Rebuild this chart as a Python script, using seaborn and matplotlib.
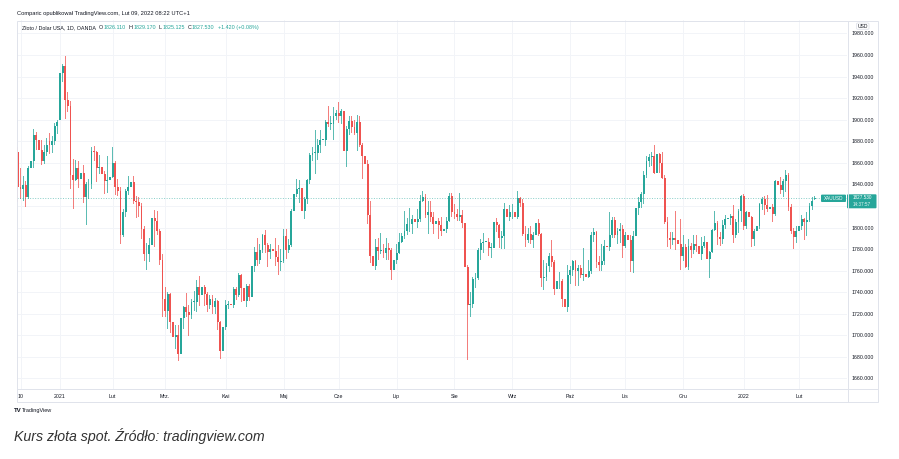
import numpy as np
import pandas as pd
import matplotlib
matplotlib.use("Agg")
import matplotlib.pyplot as plt
import seaborn as sns
from matplotlib.patches import Rectangle, FancyBboxPatch

# ---------------- data (XAU/USD daily, OANDA) ----------------
start_date = "2020-12-09"
end_date = "2022-02-09"
closed_days = ["2020-12-25", "2021-01-01"]

opens = [
    # Dec 2020
    1870, 1838, 1836, 1839, 1828, 1855, 1862, 1886, 1881, 1872, 1862, 1870, 1880, 1877, 1880, 1894,
    # Jan 2021
    1900, 1943, 1950, 1918, 1913, 1849, 1844, 1855, 1845, 1851, 1828, 1840, 1840, 1871, 1870, 1855, 1856, 1850, 1843, 1844,
    # Feb
    1847, 1860, 1838, 1834, 1793, 1814, 1834, 1838, 1842, 1825, 1824, 1820, 1799, 1775, 1775, 1784, 1809, 1806, 1797, 1770,
    # Mar
    1734, 1723, 1738, 1712, 1698, 1700, 1683, 1716, 1726, 1722, 1719, 1731, 1731, 1745, 1737, 1745, 1738, 1728, 1734, 1726, 1732, 1712, 1685,
    # Apr
    1708, 1728, 1729, 1728, 1743, 1737, 1756, 1744, 1732, 1746, 1736, 1764, 1777, 1770, 1779, 1793, 1784, 1777, 1780, 1778, 1773, 1768,
    # May
    1769, 1792, 1779, 1784, 1815, 1831, 1836, 1837, 1815, 1826, 1844, 1867, 1869, 1869, 1877, 1881, 1881, 1898, 1896, 1896, 1903,
    # Jun
    1906, 1903, 1908, 1871, 1891, 1899, 1893, 1888, 1898, 1877, 1866, 1859, 1812, 1774, 1764, 1782, 1778, 1779, 1776, 1781, 1779, 1761,
    # Jul
    1770, 1776, 1787, 1792, 1797, 1803, 1803, 1808, 1805, 1808, 1825, 1828, 1812, 1814, 1810, 1803, 1806, 1802, 1797, 1799, 1806, 1829,
    # Aug
    1814, 1813, 1810, 1812, 1804, 1763, 1728, 1729, 1752, 1753, 1779, 1786, 1787, 1787, 1781, 1781, 1805, 1802, 1790, 1792, 1817, 1810,
    # Sep
    1814, 1814, 1810, 1827, 1823, 1794, 1788, 1794, 1788, 1793, 1804, 1794, 1753, 1754, 1764, 1774, 1768, 1743, 1750, 1750, 1734, 1726,
    # Oct
    1756, 1761, 1769, 1760, 1762, 1756, 1757, 1754, 1760, 1793, 1796, 1768, 1765, 1769, 1783, 1782, 1793, 1807, 1793, 1797, 1799,
    # Nov
    1783, 1793, 1788, 1769, 1792, 1818, 1824, 1831, 1849, 1862, 1865, 1866, 1851, 1868, 1860, 1846, 1805, 1790, 1788, 1790, 1788, 1785,
    # Dec
    1774, 1782, 1763, 1783, 1779, 1785, 1783, 1775, 1783, 1787, 1771, 1777, 1798, 1804, 1791, 1789, 1802, 1808, 1809, 1811, 1793, 1805, 1815,
    # Jan 2022
    1829, 1801, 1814, 1810, 1789, 1797, 1801, 1822, 1826, 1821, 1817, 1819, 1813, 1843, 1839, 1835, 1843, 1849, 1819, 1797, 1791,
    # Feb 2022
    1797, 1801, 1808, 1805, 1807, 1820, 1826.11,
]
highs = [
    1875, 1855, 1848, 1843, 1857, 1867, 1891, 1889, 1906, 1881, 1877, 1883, 1888, 1885, 1897, 1900,
    1944, 1952, 1959, 1926, 1917, 1864, 1863, 1862, 1865, 1858, 1842, 1845, 1875, 1876, 1871, 1867, 1867, 1852, 1866, 1875,
    1875, 1862, 1845, 1838, 1817, 1836, 1848, 1855, 1848, 1829, 1828, 1823, 1801, 1786, 1790, 1813, 1816, 1815, 1799, 1775,
    1745, 1740, 1739, 1721, 1710, 1710, 1719, 1727, 1739, 1728, 1734, 1741, 1751, 1755, 1748, 1747, 1740, 1737, 1737, 1735, 1733, 1713, 1717,
    1733, 1732, 1741, 1745, 1745, 1758, 1757, 1745, 1748, 1748, 1766, 1782, 1790, 1785, 1794, 1798, 1786, 1785, 1782, 1790, 1784, 1780,
    1799, 1799, 1789, 1817, 1843, 1845, 1844, 1838, 1828, 1845, 1869, 1875, 1890, 1882, 1890, 1889, 1900, 1913, 1903, 1912, 1909,
    1916, 1910, 1910, 1894, 1903, 1903, 1900, 1904, 1903, 1878, 1870, 1863, 1825, 1791, 1789, 1790, 1795, 1785, 1790, 1786, 1781, 1771,
    1785, 1795, 1795, 1815, 1809, 1818, 1812, 1809, 1817, 1830, 1834, 1831, 1825, 1825, 1814, 1812, 1809, 1810, 1804, 1810, 1832, 1832,
    1822, 1817, 1832, 1816, 1806, 1765, 1740, 1754, 1758, 1781, 1789, 1795, 1795, 1790, 1786, 1808, 1809, 1803, 1797, 1823, 1820, 1821,
    1822, 1819, 1834, 1828, 1826, 1801, 1800, 1801, 1796, 1809, 1808, 1795, 1770, 1767, 1776, 1788, 1770, 1755, 1759, 1752, 1738, 1765,
    1764, 1770, 1770, 1765, 1765, 1781, 1762, 1770, 1796, 1800, 1797, 1774, 1785, 1788, 1789, 1814, 1810, 1810, 1800, 1804, 1802,
    1796, 1795, 1793, 1797, 1819, 1828, 1833, 1852, 1866, 1868, 1870, 1877, 1871, 1869, 1870, 1849, 1810, 1796, 1796, 1815, 1796, 1808,
    1793, 1785, 1789, 1786, 1793, 1793, 1790, 1791, 1792, 1789, 1778, 1799, 1815, 1806, 1796, 1807, 1812, 1812, 1813, 1821, 1808, 1817, 1830,
    1831, 1815, 1829, 1811, 1799, 1804, 1823, 1828, 1829, 1830, 1822, 1822, 1844, 1847, 1847, 1845, 1853, 1851, 1822, 1800, 1801,
    1807, 1812, 1809, 1814, 1823, 1828, 1829.17,
]
lows = [
    1824, 1826, 1825, 1819, 1826, 1850, 1855, 1872, 1855, 1858, 1859, 1866, 1868, 1869, 1877, 1887,
    1900, 1935, 1901, 1907, 1836, 1817, 1843, 1837, 1836, 1823, 1802, 1826, 1836, 1862, 1842, 1850, 1845, 1831, 1832, 1838,
    1846, 1830, 1829, 1785, 1791, 1810, 1830, 1834, 1822, 1809, 1810, 1789, 1769, 1761, 1768, 1780, 1782, 1793, 1765, 1717,
    1717, 1706, 1702, 1687, 1687, 1676, 1681, 1706, 1717, 1699, 1715, 1723, 1722, 1727, 1725, 1727, 1722, 1724, 1720, 1720, 1705, 1678, 1678,
    1705, 1724, 1721, 1725, 1733, 1736, 1731, 1728, 1726, 1732, 1735, 1759, 1764, 1766, 1776, 1776, 1763, 1771, 1770, 1764, 1756, 1760,
    1767, 1771, 1776, 1782, 1813, 1828, 1823, 1813, 1808, 1822, 1840, 1862, 1850, 1863, 1869, 1872, 1876, 1893, 1890, 1881, 1900,
    1897, 1896, 1865, 1856, 1886, 1888, 1886, 1871, 1875, 1845, 1845, 1803, 1767, 1761, 1761, 1770, 1775, 1772, 1770, 1770, 1751, 1750,
    1766, 1775, 1786, 1789, 1793, 1796, 1794, 1792, 1800, 1805, 1824, 1809, 1794, 1805, 1794, 1797, 1789, 1792, 1791, 1795, 1805, 1810,
    1808, 1806, 1806, 1800, 1759, 1677, 1717, 1725, 1744, 1751, 1770, 1776, 1781, 1774, 1772, 1779, 1796, 1781, 1780, 1780, 1805, 1806,
    1808, 1807, 1808, 1819, 1792, 1782, 1786, 1785, 1781, 1780, 1792, 1745, 1742, 1750, 1759, 1763, 1737, 1738, 1743, 1726, 1721, 1722,
    1748, 1755, 1746, 1746, 1753, 1750, 1749, 1753, 1757, 1787, 1762, 1760, 1760, 1765, 1773, 1778, 1790, 1790, 1785, 1786, 1772,
    1781, 1781, 1759, 1758, 1782, 1812, 1818, 1822, 1846, 1856, 1857, 1850, 1850, 1851, 1845, 1803, 1782, 1780, 1784, 1779, 1776, 1761,
    1769, 1762, 1761, 1772, 1775, 1777, 1772, 1770, 1781, 1770, 1753, 1776, 1797, 1784, 1783, 1785, 1799, 1805, 1802, 1786, 1790, 1795, 1805,
    1798, 1799, 1808, 1782, 1783, 1792, 1799, 1816, 1812, 1814, 1812, 1805, 1811, 1835, 1831, 1828, 1833, 1815, 1794, 1780, 1786,
    1795, 1798, 1788, 1792, 1805, 1816, 1825.125,
]
closes = [
    1838, 1836, 1839, 1828, 1855, 1862, 1886, 1881, 1872, 1862, 1870, 1877, 1877, 1880, 1894, 1898,
    1943, 1950, 1918, 1913, 1849, 1844, 1855, 1845, 1851, 1828, 1840, 1840, 1871, 1870, 1855, 1856, 1850, 1843, 1844, 1847,
    1860, 1838, 1834, 1793, 1814, 1834, 1838, 1842, 1825, 1824, 1820, 1799, 1775, 1775, 1784, 1809, 1806, 1797, 1770, 1734,
    1723, 1738, 1712, 1698, 1700, 1683, 1716, 1726, 1722, 1719, 1731, 1731, 1745, 1737, 1745, 1738, 1728, 1734, 1726, 1732, 1712, 1685, 1708,
    1728, 1729, 1728, 1743, 1737, 1756, 1744, 1732, 1746, 1736, 1764, 1777, 1770, 1779, 1793, 1784, 1777, 1780, 1778, 1773, 1768, 1769,
    1792, 1779, 1784, 1815, 1831, 1836, 1837, 1815, 1826, 1844, 1867, 1869, 1869, 1877, 1881, 1881, 1898, 1896, 1896, 1903, 1906,
    1903, 1908, 1871, 1891, 1899, 1893, 1888, 1898, 1877, 1866, 1859, 1812, 1774, 1764, 1782, 1778, 1779, 1776, 1781, 1779, 1761, 1770,
    1776, 1787, 1792, 1797, 1803, 1803, 1808, 1805, 1808, 1825, 1828, 1812, 1814, 1810, 1803, 1806, 1802, 1797, 1799, 1806, 1829, 1814,
    1813, 1810, 1812, 1804, 1763, 1728, 1729, 1752, 1753, 1779, 1786, 1787, 1787, 1781, 1781, 1805, 1802, 1790, 1792, 1817, 1810, 1814,
    1814, 1810, 1827, 1823, 1794, 1788, 1794, 1788, 1793, 1804, 1794, 1753, 1754, 1764, 1774, 1768, 1743, 1750, 1750, 1734, 1726, 1756,
    1761, 1769, 1760, 1762, 1756, 1757, 1754, 1760, 1793, 1796, 1768, 1765, 1769, 1783, 1782, 1793, 1807, 1793, 1797, 1799, 1783,
    1793, 1788, 1769, 1792, 1818, 1824, 1831, 1849, 1862, 1865, 1866, 1851, 1868, 1860, 1846, 1805, 1790, 1788, 1790, 1788, 1785, 1774,
    1782, 1763, 1783, 1779, 1785, 1783, 1775, 1783, 1787, 1771, 1777, 1798, 1804, 1791, 1789, 1802, 1808, 1809, 1811, 1793, 1805, 1815, 1829,
    1801, 1814, 1810, 1789, 1797, 1801, 1822, 1826, 1821, 1817, 1819, 1813, 1843, 1839, 1835, 1843, 1849, 1819, 1797, 1791, 1797,
    1801, 1808, 1805, 1807, 1820, 1825, 1827.53,
]

tick_dates = ["2020-12-10", "2021-01-04", "2021-02-01", "2021-03-01", "2021-04-01",
              "2021-05-03", "2021-06-01", "2021-07-01", "2021-08-02", "2021-09-01",
              "2021-10-01", "2021-11-01", "2021-12-01", "2022-01-03", "2022-02-01"]
tick_labels = ["10", "2021", "Lut", "Mrz.", "Kwi", "Maj", "Cze", "Lip", "Sie",
               "Wrz", "Paź", "Lis", "Gru", "2022", "Lut"]
price_ticks = [1660, 1680, 1700, 1720, 1740, 1760, 1780, 1800, 1820, 1840,
               1860, 1880, 1900, 1920, 1940, 1960, 1980]
last_price = 1827.53

header_top = "Comparic opublikował TradingView.com, Lut 09, 2022 08:22 UTC+1"
symbol_text = "Złoto / Dolar USA, 1D, OANDA"
ohlc_text = [("O", "1826.110"), ("H", "1829.170"), ("L", "1825.125"), ("C", "1827.530")]
change_text = "+1.420 (+0.08%)"
caption = "Kurs złota spot. Źródło: tradingview.com"

# ---------------- build frame ----------------
dates = pd.bdate_range(start_date, end_date)
dates = dates[~dates.isin(pd.to_datetime(closed_days))]
assert len(dates) == len(opens) == len(highs) == len(lows) == len(closes), (
    len(dates), len(opens), len(highs), len(lows), len(closes))

df = pd.DataFrame({"date": dates, "open": opens, "high": highs, "low": lows, "close": closes})
df["idx"] = np.arange(len(df))
df["up"] = df["close"] >= df["open"]
df["body_lo"] = df[["open", "close"]].min(axis=1)
df["body_h"] = (df["close"] - df["open"]).abs().clip(lower=0.7)
df["wick_h"] = df["high"] - df["low"]

UP = "#26a69a"
DOWN = "#ef5350"
TXT = "#131722"
BORDER = "#e0e3eb"
GRID = "#f2f4f8"

sns.set_theme(style="white")
plt.rcParams["font.family"] = ["Liberation Sans", "DejaVu Sans"]

W, H = 899, 459
fig = plt.figure(figsize=(W / 100, H / 100), dpi=100)
fig.patch.set_facecolor("white")

# main price pane: x 17..847 px, y 20..389 px
ax = fig.add_axes([17 / W, 1 - 389 / H, 830 / W, 369 / H])
ax.set_facecolor("white")

for is_up, color in [(True, UP), (False, DOWN)]:
    sub = df[df["up"] == is_up]
    sns.barplot(x=sub["idx"].to_numpy(), y=sub["wick_h"].to_numpy(),
                bottom=sub["low"].to_numpy(), native_scale=True, orient="x",
                width=0.32, color=color, saturation=1, errorbar=None,
                linewidth=0, alpha=0.75, ax=ax)
    sns.barplot(x=sub["idx"].to_numpy(), y=sub["body_h"].to_numpy(),
                bottom=sub["body_lo"].to_numpy(), native_scale=True, orient="x",
                width=0.72, color=color, saturation=1, errorbar=None,
                linewidth=0, ax=ax)

ax.axhline(last_price, color=UP, lw=0.7, ls=(0, (1, 1.6)), alpha=0.55, zorder=1)

ax.set_xlim(-0.34, 315.25)
ax.set_ylim(1650.2, 1992.5)
ax.set_xlabel("")
ax.set_ylabel("")

# price labels hidden where the last-price tag covers them (as TradingView does)
ax.set_yticks(price_ticks)
ax.set_yticklabels(["" if abs(v - last_price) < 10 else f"{v:.3f}" for v in price_ticks])
ax.yaxis.tick_right()
ax.tick_params(axis="y", length=0, pad=3.4, labelsize=3.8, labelcolor=TXT)

tick_pos = [int(np.searchsorted(dates, pd.Timestamp(d))) for d in tick_dates]
ax.set_xticks(tick_pos)
ax.set_xticklabels(tick_labels)
ax.tick_params(axis="x", length=0, pad=3.3, labelsize=3.8, labelcolor=TXT)

ax.grid(True, color=GRID, lw=0.7)
ax.set_axisbelow(True)
for s in ax.spines.values():
    s.set_visible(False)

# ---------------- overlay in pixel coordinates ----------------
ov = fig.add_axes([0, 0, 1, 1], zorder=5)
ov.set_xlim(0, W)
ov.set_ylim(H, 0)
ov.axis("off")
ov.patch.set_alpha(0)

ov.add_patch(Rectangle((17, 20.5), 861, 381.5, fill=False, ec=BORDER, lw=0.7))
ov.plot([847.5, 847.5], [20.5, 402], color=BORDER, lw=0.7)
ov.plot([17, 878], [389, 389], color=BORDER, lw=0.7)

ov.text(17, 13.5, header_top, fontsize=4.15, color=TXT, ha="left", va="center")

renderer = fig.canvas.get_renderer()


def chain(x, y, pieces, size):
    for text, color, gap in pieces:
        t = ov.text(x, y, text, fontsize=size, color=color, ha="left", va="center")
        bb = t.get_window_extent(renderer=renderer)
        x += bb.width + gap
    return x


pieces = [(symbol_text, TXT, 3.0)]
for letter, val in ohlc_text:
    pieces.append((letter, TXT, 0.4))
    pieces.append((val, UP, 3.0))
pieces.append((change_text, UP, 0))
chain(22, 27.5, pieces, 3.9)

# USD label
ov.add_patch(FancyBboxPatch((856.5, 23), 12.5, 6.3, boxstyle="round,pad=0,rounding_size=1.2",
                            fc="white", ec=BORDER, lw=0.6))
ov.text(862.7, 26.3, "USD", fontsize=3.6, color=TXT, ha="center", va="center")

# symbol & last-price labels
ov.add_patch(FancyBboxPatch((821, 194.6), 25, 7.4, boxstyle="round,pad=0,rounding_size=1",
                            fc=UP, ec="none"))
ov.text(833.5, 198.4, "XAUUSD", fontsize=3.3, color="white", ha="center", va="center")
ov.add_patch(FancyBboxPatch((847, 194.3), 29.5, 14, boxstyle="round,pad=0,rounding_size=1",
                            fc=UP, ec="none"))
ov.text(862, 197.9, f"{last_price:.3f}", fontsize=3.3, color="white", ha="center", va="center")
ov.text(862, 204.6, "14:37:57", fontsize=3.3, color="white", ha="center", va="center", alpha=0.9)

# TradingView logo line
ov.text(13.5, 410.5, "TV", fontsize=4.4, color=TXT, ha="left", va="center", fontweight="bold")
ov.text(21.5, 410.5, "TradingView", fontsize=4.0, color=TXT, ha="left", va="center")

# caption
ov.text(13.5, 436, caption, fontsize=10.2, color="#333333", ha="left", va="center", style="italic")

fig.savefig("out.png", dpi=100, facecolor="white")
